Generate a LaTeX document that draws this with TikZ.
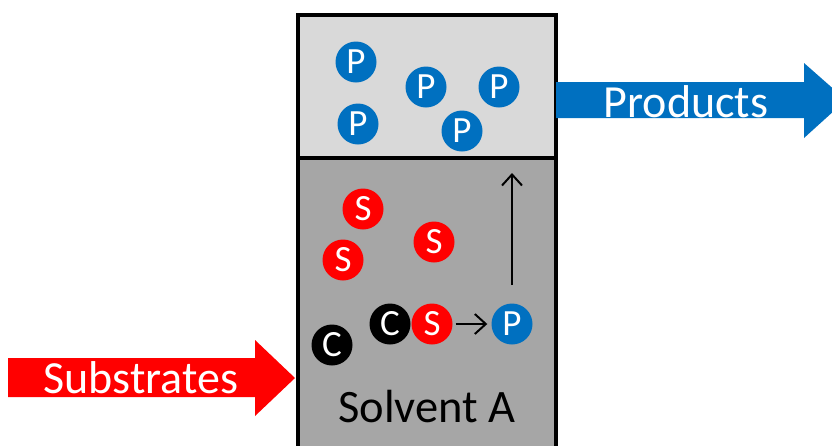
\documentclass[tikz,border=0pt]{standalone}
\usepackage{fontspec}
\setmainfont{Carlito}
\usetikzlibrary{arrows.meta}
\definecolor{pblue}{HTML}{0070C0}
\definecolor{sred}{HTML}{FF0000}
\definecolor{upperfill}{HTML}{D9D9D9}
\definecolor{lowerfill}{HTML}{A6A6A6}
\begin{document}
\begin{tikzpicture}[x=1pt,y=-1pt,
  mol/.style={circle,minimum size=41pt,inner sep=0pt,text=white,
    font=\fontsize{37}{37}\selectfont},
  prod/.style={mol,fill=pblue},
  subs/.style={mol,fill=sred},
  cat/.style={mol,fill=black},
  phase/.style={draw=black,line width=4.5pt},
  flow/.style={-{Straight Barb[length=11pt,width=20pt,line width=2pt]},line width=2pt},
  biglabel/.style={text=white,anchor=base,inner sep=0pt,font=\fontsize{46}{46}\selectfont}]
\useasboundingbox (0,0) rectangle (832,445);
\clip (0,0) rectangle (832,445);
\fill[white] (0,0) rectangle (832,445);

% two-phase vessel
\filldraw[phase,fill=lowerfill] (298,158) rectangle (556,470);
\filldraw[phase,fill=upperfill] (298,15) rectangle (556,158);

% feed and outlet arrows
\fill[sred] (8,358) -- (255,358) -- (255,340) -- (295,378) -- (255,416) -- (255,397) -- (8,397) -- cycle;
\node[biglabel] (substrates) at (141,393) {Substrates};
\fill[pblue] (556,82) -- (804,82) -- (804,63) -- (846,100) -- (804,138) -- (804,118) -- (556,118) -- cycle;
\node[biglabel] (products) at (686,117) {Products};

% products in the upper phase
\node[prod] (p1) at (356,62) {P};
\node[prod] (p2) at (358,124) {P};
\node[prod] (p3) at (426,87) {P};
\node[prod] (p4) at (499,87) {P};
\node[prod] (p5) at (462,131) {P};

% substrates and catalyst in solvent A
\node[subs] (s1) at (363,209) {S};
\node[subs] (s2) at (343,260) {S};
\node[subs] (s3) at (434,242) {S};
\node[cat] (c1) at (332,345) {C};
\node[cat] (c2) at (390,324) {C};
\node[subs] (s4) at (432,324) {S};
\node[prod] (p6) at (512,324) {P};
\coordinate (rise0) at (512,285);
\coordinate (rise1) at (512,173);

\draw[flow] ([xshift=3pt]s4.east) -- ([xshift=-4pt]p6.west);
\draw[flow] (rise0) -- (rise1);

\node[anchor=base,inner sep=0pt,font=\fontsize{46.5}{46.5}\selectfont] (solvent) at (427,422) {Solvent A};
\end{tikzpicture}
\end{document}
